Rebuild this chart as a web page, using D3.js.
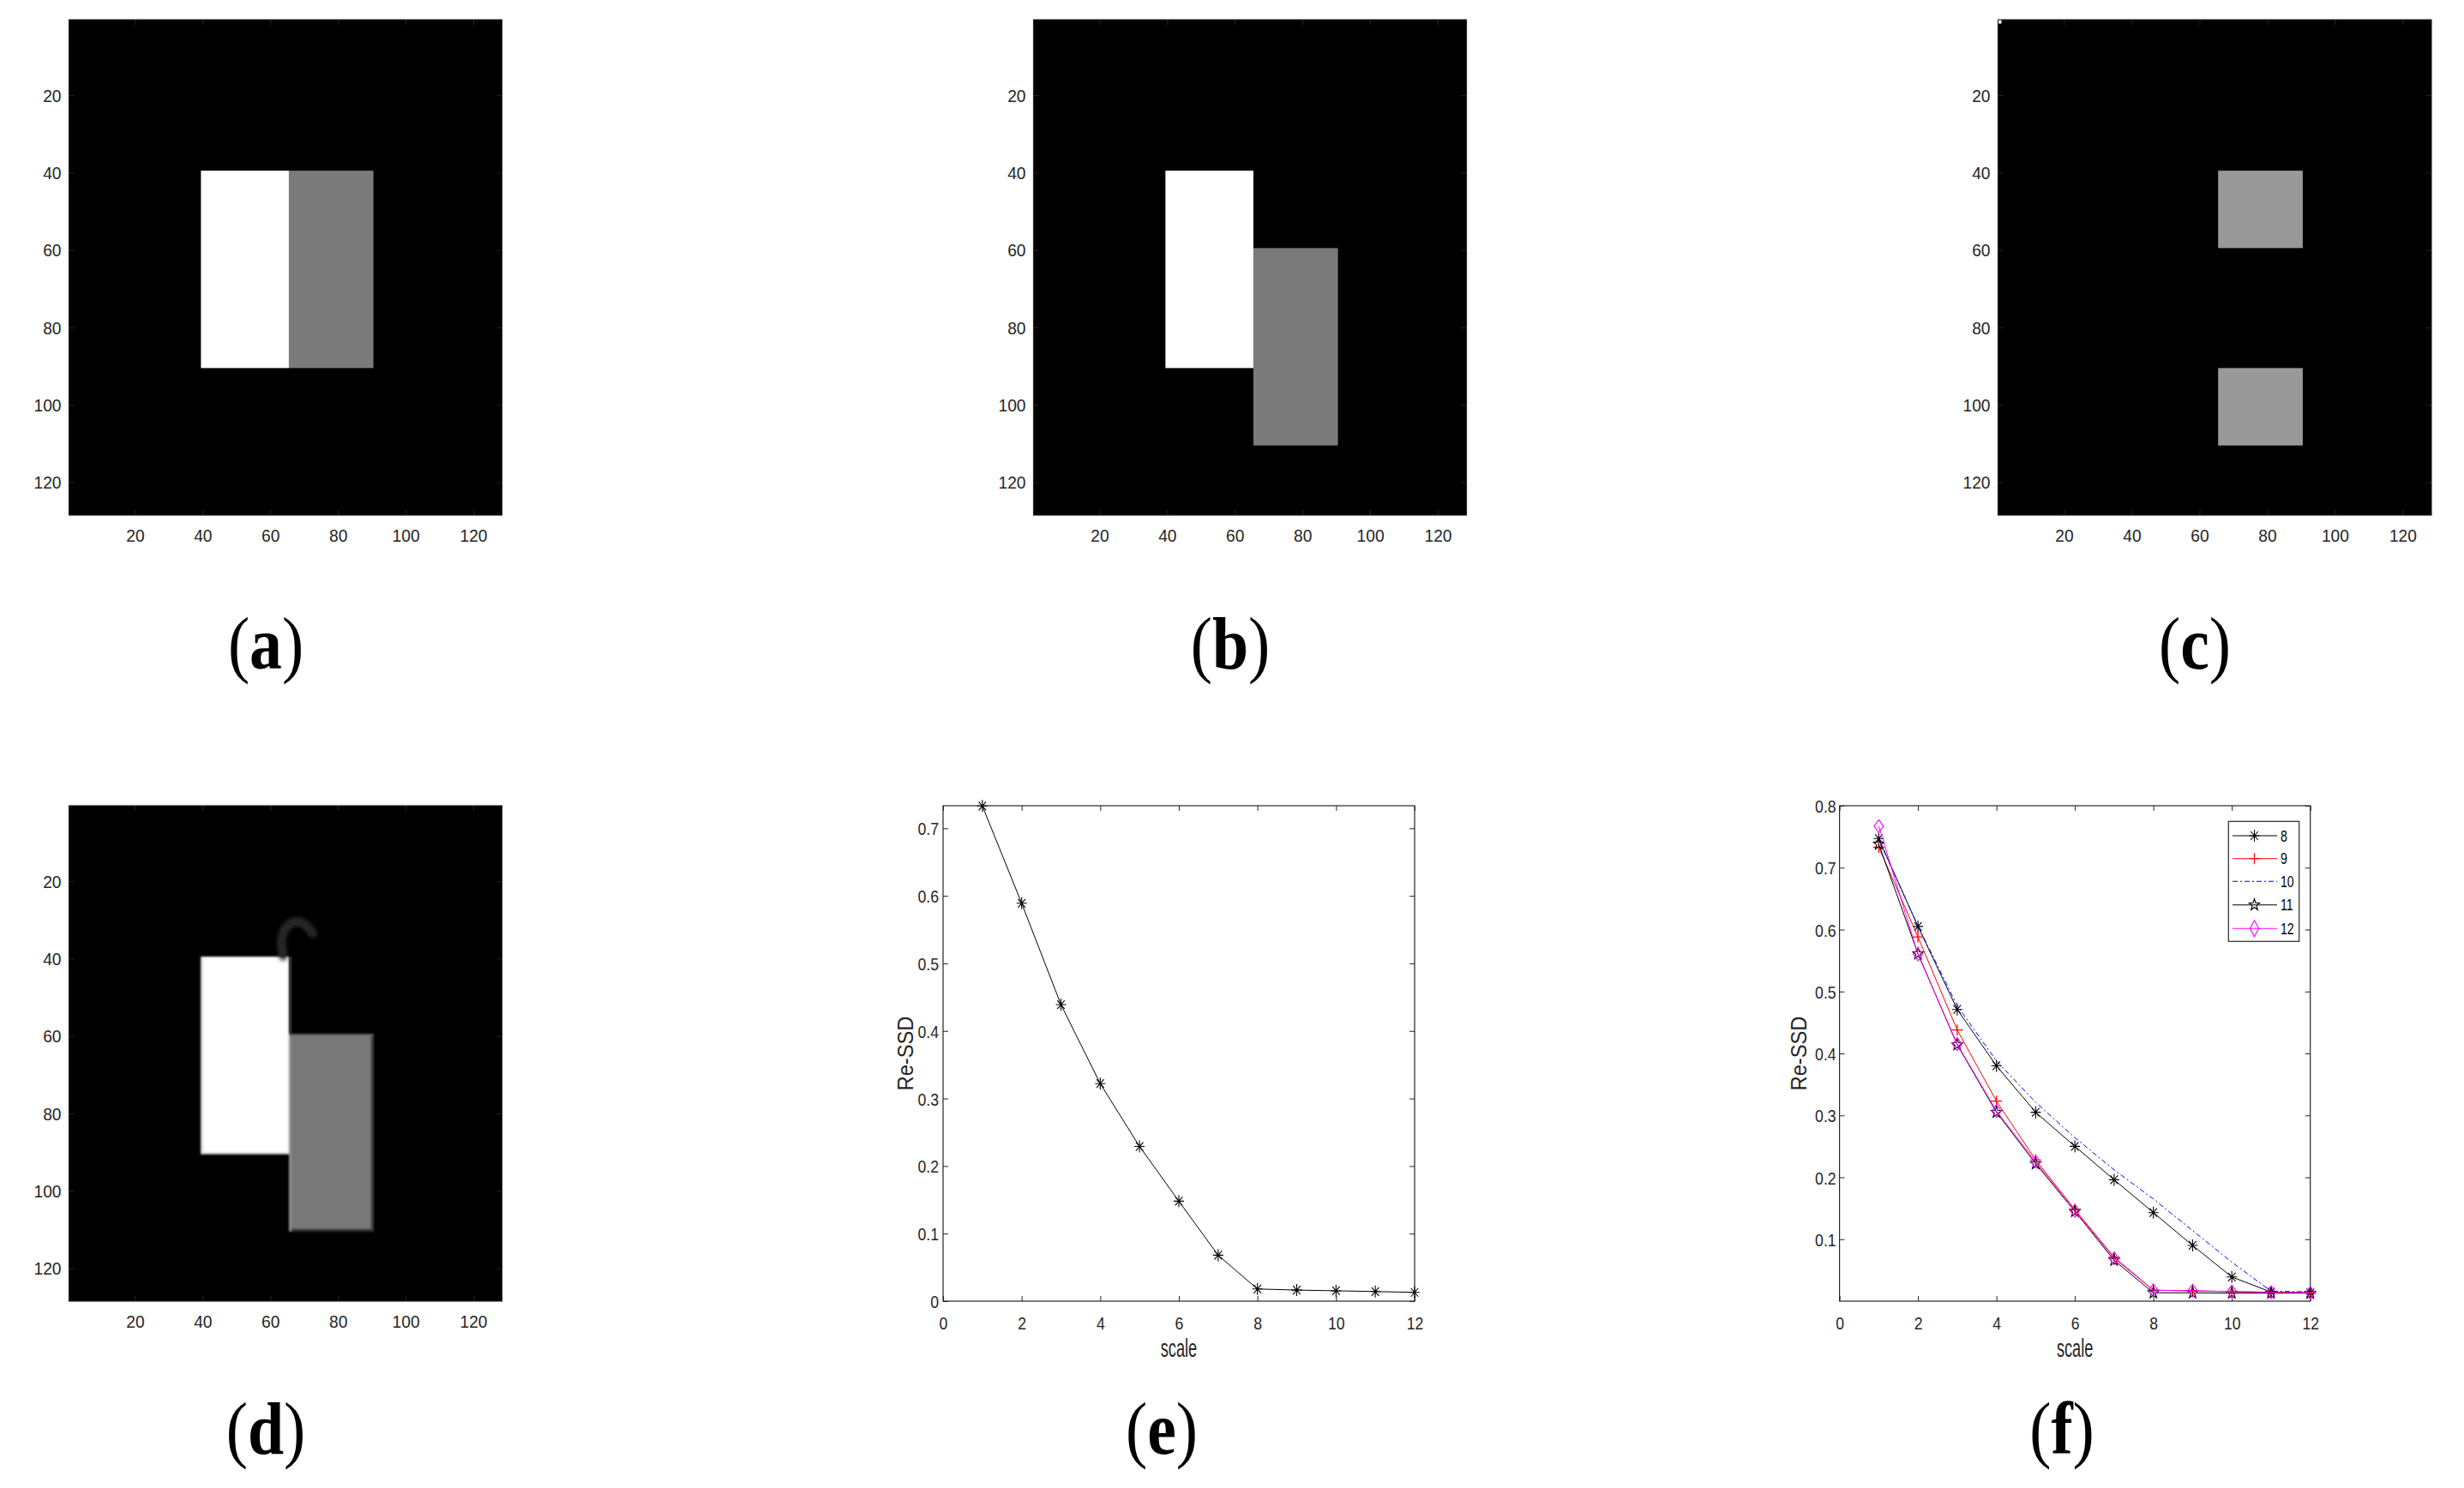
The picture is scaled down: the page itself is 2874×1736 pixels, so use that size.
<!DOCTYPE html>
<html><head><meta charset="utf-8">
<script src="https://cdn.jsdelivr.net/npm/d3@7"></script>
<style>body{margin:0;background:#fff}svg{display:block}</style>
</head><body>
<script>
// ================= DATA =================
const imageSize = 128;
const imageTicks = [20, 40, 60, 80, 100, 120];
// rectangular blocks of the 128x128 test images: columns c0..c1, rows r0..r1 (inclusive), intensity v (0..1)
const blocksA = [{c0:40,c1:65,r0:40,r1:90,v:1},{c0:66,c1:90,r0:40,r1:90,v:0.48}];
const blocksB = [{c0:40,c1:65,r0:40,r1:90,v:1},{c0:66,c1:90,r0:60,r1:110,v:0.48}];
const blocksC = [{c0:1,c1:1,r0:1,r1:1,v:1},{c0:66,c1:90,r0:40,r1:59,v:0.6},{c0:66,c1:90,r0:91,r1:110,v:0.6}];
const blocksD = [{c0:40,c1:65,r0:40,r1:90,v:1},{c0:66,c1:90,r0:60,r1:110,v:0.47}];
// faint registration artefact in (d), image coordinates
const artifactD = [[63.8,39.5],[63.0,35.0],[64.4,31.8],[67.5,30.0],[70.5,31.0],[72.6,33.5]];
const seamD = [[66.1,39.5],[66.1,59.5]];

const scaleValues = [1,2,3,4,5,6,7,8,9,10,11,12];
const reSSD_E = [0.733,0.589,0.439,0.322,0.229,0.148,0.068,0.018,0.0164,0.0153,0.0142,0.013];
const reSSD_8  = [0.747,0.605,0.471,0.380,0.305,0.250,0.196,0.143,0.090,0.039,0.0147,0.0134];
const reSSD_9  = [0.733,0.588,0.438,0.323,0.228,0.148,0.071,0.0177,0.0165,0.0155,0.0143,0.0135];
const reSSD_10 = [0.745,0.606,0.477,0.388,0.321,0.264,0.212,0.165,0.114,0.063,0.016,0.015];
const reSSD_11 = [0.738,0.561,0.414,0.305,0.222,0.145,0.066,0.0135,0.0134,0.013,0.013,0.0128];
const reSSD_12 = [0.767,0.560,0.415,0.307,0.225,0.146,0.069,0.0177,0.0168,0.0155,0.0143,0.0134];
const legendNames = ['8','9','10','11','12'];
const xTicksLine = [0,2,4,6,8,10,12];
const yTicksE = [0,0.1,0.2,0.3,0.4,0.5,0.6,0.7];
const yTicksF = [0.1,0.2,0.3,0.4,0.5,0.6,0.7,0.8];
const panelLetters = ['a','b','c','d','e','f'];
const xLabel = 'scale';
const yLabel = 'Re-SSD';

// ================= LAYOUT / STYLE =================
const W = 2874, H = 1736;
const AX = '#262626';
const SANS = "'Liberation Sans', Arial, Helvetica, sans-serif";
const SERIF = "'Liberation Serif', 'Times New Roman', serif";
const boxes = {
  a:{x0:80.5,x1:585.5,y0:23,y1:601},
  b:{x0:1205.5,x1:1710.5,y0:23,y1:601},
  c:{x0:2330.5,x1:2836,y0:23,y1:601},
  d:{x0:80.5,x1:585.5,y0:940,y1:1518},
  e:{x0:1100,x1:1650,y0:940,y1:1518},
  f:{x0:2145.6,x1:2694.7,y0:940,y1:1518}
};
const labelPos = {a:[310,780],b:[1435,780],c:[2560,780],d:[310,1696],e:[1355,1696],f:[2405,1696]};

const svg = d3.select('body').append('svg').attr('width',W).attr('height',H);
svg.append('rect').attr('width',W).attr('height',H).attr('fill','#fff');
const defs = svg.append('defs');
defs.append('filter').attr('id','soft').attr('x','-20%').attr('y','-20%').attr('width','140%').attr('height','140%')
  .append('feGaussianBlur').attr('stdDeviation',0.9);
defs.append('filter').attr('id','blur2').attr('x','-50%').attr('y','-50%').attr('width','200%').attr('height','200%')
  .append('feGaussianBlur').attr('stdDeviation',2.6);

function condense(sel, f){
  sel.each(function(){
    const L = this.getComputedTextLength();
    this.setAttribute('textLength', (L*f).toFixed(2));
    this.setAttribute('lengthAdjust','spacingAndGlyphs');
  });
}
const gray = v => { const c = Math.round(v*255); return `rgb(${c},${c},${c})`; };

function styleAxis(g){
  g.select('.domain').remove();
  g.selectAll('.tick line').attr('stroke',AX).attr('stroke-width',1);
  g.selectAll('text').attr('fill',AX).attr('font-family',SANS);
}

function frame(g, b, x, y, xt, yt, opts){
  const tl = opts.tickLen;
  const gb = g.append('g').attr('transform',`translate(0,${b.y1})`)
    .call(d3.axisBottom(x).tickValues(xt).tickSize(-tl).tickSizeOuter(0).tickFormat(opts.xfmt));
  styleAxis(gb);
  gb.selectAll('text').attr('y',opts.xLabOff).attr('dy',null).attr('font-size',opts.fs);
  const gt = g.append('g').attr('transform',`translate(0,${b.y0})`)
    .call(d3.axisTop(x).tickValues(xt).tickSize(-tl).tickSizeOuter(0).tickFormat(''));
  styleAxis(gt);
  const gl = g.append('g').attr('transform',`translate(${b.x0},0)`)
    .call(d3.axisLeft(y).tickValues(yt).tickSize(-tl).tickSizeOuter(0).tickFormat(opts.yfmt));
  styleAxis(gl);
  gl.selectAll('text').attr('x',-opts.yLabOff).attr('dy','0.36em').attr('font-size',opts.fs);
  const gr = g.append('g').attr('transform',`translate(${b.x1},0)`)
    .call(d3.axisRight(y).tickValues(yt).tickSize(-tl).tickSizeOuter(0).tickFormat(''));
  styleAxis(gr);
  g.append('rect').attr('x',b.x0).attr('y',b.y0).attr('width',b.x1-b.x0).attr('height',b.y1-b.y0)
    .attr('fill','none').attr('stroke',AX).attr('stroke-width',1.2);
  condense(gb.selectAll('text'), opts.squeeze);
  condense(gl.selectAll('text'), opts.squeeze);
}

function imagePanel(key, blocks, extra){
  const b = boxes[key];
  const g = svg.append('g');
  const x = d3.scaleLinear().domain([0.5, imageSize+0.5]).range([b.x0,b.x1]);
  const y = d3.scaleLinear().domain([0.5, imageSize+0.5]).range([b.y0,b.y1]);
  g.append('rect').attr('x',b.x0).attr('y',b.y0).attr('width',b.x1-b.x0).attr('height',b.y1-b.y0).attr('fill',gray(0));
  const img = g.append('g');
  if (extra) img.attr('filter','url(#soft)');
  img.selectAll('rect.blk').data(blocks).join('rect').attr('class','blk')
    .attr('x',d=>x(d.c0-0.5)).attr('y',d=>y(d.r0-0.5))
    .attr('width',d=>x(d.c1+0.5)-x(d.c0-0.5)).attr('height',d=>y(d.r1+0.5)-y(d.r0-0.5))
    .attr('fill',d=>gray(d.v));
  if (extra) extra(g, img, x, y);
  frame(g, b, x, y, imageTicks, imageTicks, {tickLen:6, fs:20, xLabOff:31, yLabOff:9, squeeze:0.96, xfmt:d3.format('d'), yfmt:d3.format('d')});
  return g;
}

imagePanel('a', blocksA);
imagePanel('b', blocksB);
imagePanel('c', blocksC);
imagePanel('d', blocksD, (g, img, x, y) => {
  const gr = blocksD[1], wh = blocksD[0];
  img.append('line').attr('x1',x(gr.c0-0.5)).attr('x2',x(gr.c1+0.5)).attr('y1',y(gr.r1+0.5)-1.5).attr('y2',y(gr.r1+0.5)-1.5)
    .attr('stroke','#2a2a2a').attr('stroke-width',3);
  img.append('line').attr('x1',x(gr.c1+0.5)-1.5).attr('x2',x(gr.c1+0.5)-1.5).attr('y1',y(gr.r0-0.5)).attr('y2',y(gr.r1+0.5))
    .attr('stroke','#3a3a3a').attr('stroke-width',3);
  img.append('line').attr('x1',x(gr.c0-0.5)+1.5).attr('x2',x(gr.c0-0.5)+1.5).attr('y1',y(gr.r0-0.5)).attr('y2',y(gr.r1+0.5))
    .attr('stroke','#8c8c8c').attr('stroke-width',3);
  img.append('line').attr('x1',x(gr.c0-0.5)).attr('x2',x(gr.c1+0.5)).attr('y1',y(gr.r0-0.5)+1.2).attr('y2',y(gr.r0-0.5)+1.2)
    .attr('stroke','#6a6a6a').attr('stroke-width',2.4);
  img.append('line').attr('x1',x(wh.c0-0.5)+1.5).attr('x2',x(wh.c0-0.5)+1.5).attr('y1',y(wh.r0-0.5)).attr('y2',y(wh.r1+0.5))
    .attr('stroke','#e4e4e4').attr('stroke-width',3);
  img.append('line').attr('x1',x(wh.c0-0.5)).attr('x2',x(wh.c1+0.5)).attr('y1',y(wh.r1+0.5)-1).attr('y2',y(wh.r1+0.5)-1)
    .attr('stroke','#d0d0d0').attr('stroke-width',2);
  const ln = d3.line().x(d=>x(d[0])).y(d=>y(d[1])).curve(d3.curveBasis);
  g.append('path').attr('d',ln(artifactD)).attr('fill','none').attr('stroke','#303030')
    .attr('stroke-width',9).attr('filter','url(#blur2)').attr('stroke-linecap','round');
  g.append('path').attr('d',ln(artifactD)).attr('fill','none').attr('stroke','#222').attr('stroke-width',4)
    .attr('filter','url(#soft)');
  g.append('path').attr('d',d3.line().x(d=>x(d[0])).y(d=>y(d[1]))(seamD)).attr('fill','none')
    .attr('stroke','#2c2c2c').attr('stroke-width',2.5);
});

// ---------- marker painters ----------
function markAsterisk(g, cx, cy, color){
  const h=6, v=7, dh=4.3, dv=5;
  g.append('path').attr('d',`M${cx-h},${cy}H${cx+h}M${cx},${cy-v}V${cy+v}M${cx-dh},${cy-dv}L${cx+dh},${cy+dv}M${cx-dh},${cy+dv}L${cx+dh},${cy-dv}`)
    .attr('stroke',color).attr('stroke-width',1.1).attr('fill','none');
}
function markPlus(g, cx, cy, color){
  const r=6.5;
  g.append('path').attr('d',`M${cx-r},${cy}H${cx+r}M${cx},${cy-r}V${cy+r}`).attr('stroke',color).attr('stroke-width',1.2).attr('fill','none');
}
function markDiamond(g, cx, cy, color, hw, hh){
  g.append('path').attr('d',`M${cx},${cy-hh}L${cx+hw},${cy}L${cx},${cy+hh}L${cx-hw},${cy}Z`).attr('stroke',color).attr('stroke-width',1.1).attr('fill','none');
}
function markStar(g, cx, cy, color){
  const R=6.5, r=2.6; let p='';
  for(let i=0;i<10;i++){ const a=-Math.PI/2+i*Math.PI/5; const rr=i%2?r:R; p+=(i?'L':'M')+(cx+rr*Math.cos(a)).toFixed(2)+','+(cy+rr*Math.sin(a)*1.1).toFixed(2); }
  g.append('path').attr('d',p+'Z').attr('stroke',color).attr('stroke-width',1.1).attr('fill','none');
}

function linePanel(key, yMax, yTicks, series, legend){
  const b = boxes[key];
  const g = svg.append('g');
  const x = d3.scaleLinear().domain([0,12]).range([b.x0,b.x1]);
  const y = d3.scaleLinear().domain([0,yMax]).range([b.y1,b.y0]);
  const fmt = d => d===0 ? '0' : d3.format('.1f')(d);
  frame(g, b, x, y, xTicksLine, yTicks, {tickLen:6, fs:21, xLabOff:33, yLabOff:key==='e'?5:4, squeeze:0.84, xfmt:d3.format('d'), yfmt:fmt});
  g.append('text').attr('x',(b.x0+b.x1)/2).attr('y',1583).attr('text-anchor','middle')
    .attr('font-family',SANS).attr('font-size',29).attr('fill',AX).text(xLabel)
    .attr('textLength',42.5).attr('lengthAdjust','spacingAndGlyphs');
  const yx = key==='e' ? b.x0-35.3 : b.x0-38.8;
  g.append('text').attr('transform',`translate(${yx},${(b.y0+b.y1)/2}) rotate(-90)`).attr('text-anchor','middle')
    .attr('font-family',SANS).attr('font-size',25).attr('fill',AX).text(yLabel)
    .attr('textLength',87).attr('lengthAdjust','spacingAndGlyphs');
  series.forEach(s => {
    const pts = scaleValues.map((sv,i)=>({s:sv, v:s.values[i]}));
    const line = d3.line().x(d=>x(d.s)).y(d=>y(d.v));
    g.append('path').attr('d',line(pts)).attr('fill','none').attr('stroke',s.color).attr('stroke-width',1)
      .attr('stroke-dasharray',s.dash||null);
    if (s.marker) pts.forEach(d => s.marker(g, x(d.s), y(d.v), s.color));
  });
  if (legend){
    const L = {x0:2599.3,x1:2681.7,y0:958.3,y1:1098.3, rows:[975,1001.7,1028.3,1055.7,1083.3]};
    g.append('rect').attr('x',L.x0).attr('y',L.y0).attr('width',L.x1-L.x0).attr('height',L.y1-L.y0)
      .attr('fill','#fff').attr('stroke',AX).attr('stroke-width',1.2);
    series.forEach((s,i) => {
      const ry = L.rows[i];
      g.append('line').attr('x1',2604).attr('x2',2656).attr('y1',ry).attr('y2',ry).attr('stroke',s.color)
        .attr('stroke-width',1.1).attr('stroke-dasharray',s.dash||null);
      if (s.legendMarker) s.legendMarker(g, 2629.5, ry, s.color);
      const t = g.append('text').attr('x',2660).attr('y',ry+6.7).attr('font-family',SANS).attr('font-size',18.5)
        .attr('fill','#000').text(legendNames[i]);
      condense(t, 0.76);
    });
  }
}

linePanel('e', 0.7334, yTicksE, [{values:reSSD_E, color:'#000', marker:markAsterisk}]);
linePanel('f', 0.8, yTicksF, [
  {values:reSSD_8,  color:'#000', marker:markAsterisk, legendMarker:markAsterisk},
  {values:reSSD_9,  color:'#ff0000', marker:markPlus, legendMarker:markPlus},
  {values:reSSD_10, color:'#0000ff', dash:'6,3,2,3'},
  {values:reSSD_11, color:'#000', marker:markStar, legendMarker:markStar},
  {values:reSSD_12, color:'#ff00ff', marker:(g,cx,cy,c)=>markDiamond(g,cx,cy,c,5.5,7.5), legendMarker:(g,cx,cy,c)=>markDiamond(g,cx,cy,c,5,9.5)}
], true);

// panel letters "(a)" ... "(f)"
panelLetters.forEach(k => {
  const [cx, by] = labelPos[k];
  const t = svg.append('text').attr('transform',`translate(${cx},${by}) scale(0.87,1)`).attr('text-anchor','middle')
    .attr('font-family',SERIF).attr('font-size',87).attr('fill','#000');
  t.append('tspan').text('(');
  t.append('tspan').attr('font-weight','bold').text(k);
  t.append('tspan').text(')');
});
</script>
</body></html>
